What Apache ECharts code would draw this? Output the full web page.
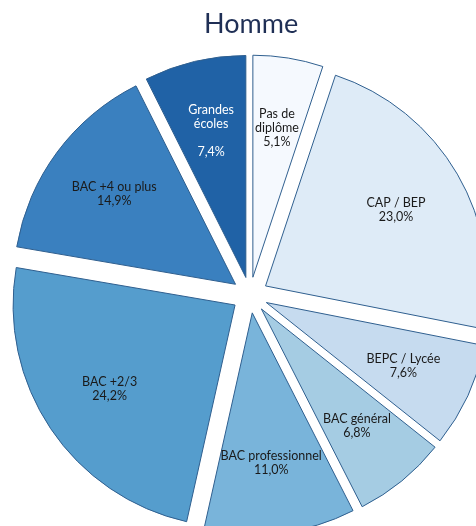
<!DOCTYPE html>
<html>
<head>
<meta charset="utf-8">
<script src="https://cdn.jsdelivr.net/npm/echarts@6/dist/echarts.min.js"></script>
<style>
  html, body { margin: 0; padding: 0; background: #fff; }
  #chart { width: 476px; height: 526px; }
</style>
</head>
<body>
<div id="chart"></div>
<script>
// Répartition des diplômes - Homme (%)
const categories = ['Pas de\ndiplôme', 'CAP / BEP', 'BEPC / Lycée', 'BAC général', 'BAC professionnel', 'BAC +2/3', 'BAC +4 ou plus', 'Grandes\nécoles']
const values = [5.1, 23.0, 7.6, 6.8, 11.0, 24.2, 14.9, 7.4]
const colors = ['#f5f9fe', '#deebf7', '#c6dbef', '#a5cce3', '#79b4da', '#559dcd', '#3a80bf', '#2062a6']

const center = [250, 295]
const radius = 222
const offset = 18
const font = 'Lato, "Open Sans", sans-serif'

const fmt = (v) => v.toFixed(1).replace('.', ',') + '%'

const sliceData = categories.map((name, i) => ({
  name,
  value: values[i],
  selected: true,
  itemStyle: { color: colors[i] },
}))

const labelData = categories.map((name, i) => {
  const white = i === categories.length - 1
  const item = {
    name,
    value: values[i],
    selected: true,
    label: {
      formatter: name + (white ? '\n\n' : '\n') + fmt(values[i]),
      color: white ? '#ffffff' : '#1a1a1a',
    },
  }
  if (i === 0) item.label.offset = [2, -28]
  if (i === 1) item.label.offset = [-6, 2]
  if (white) item.label.offset = [0, -2]
  return item
})

const chart = echarts.init(document.getElementById('chart'))
chart.setOption({
  animation: false,
  title: {
    text: 'Homme',
    left: 199,
    top: 6,
    textStyle: { fontFamily: font, fontSize: 27, fontWeight: 'normal', color: '#1f2f55' },
  },
  series: [
    {
      type: 'pie',
      center,
      radius,
      startAngle: 90,
      clockwise: true,
      selectedMode: 'multiple',
      selectedOffset: offset,
      silent: true,
      label: { show: false },
      labelLine: { show: false },
      itemStyle: { borderColor: '#2f5f8f', borderWidth: 1 },
      data: sliceData,
    },
    {
      type: 'pie',
      center,
      radius: [74, radius],
      startAngle: 90,
      clockwise: true,
      selectedMode: 'multiple',
      selectedOffset: offset,
      silent: true,
      itemStyle: { color: 'rgba(0,0,0,0)', borderWidth: 0 },
      label: {
        show: true,
        position: 'inside',
        fontFamily: font,
        fontSize: 12.5,
        lineHeight: 14,
        align: 'center',
      },
      labelLine: { show: false },
      data: labelData,
    },
  ],
})
</script>
</body>
</html>
